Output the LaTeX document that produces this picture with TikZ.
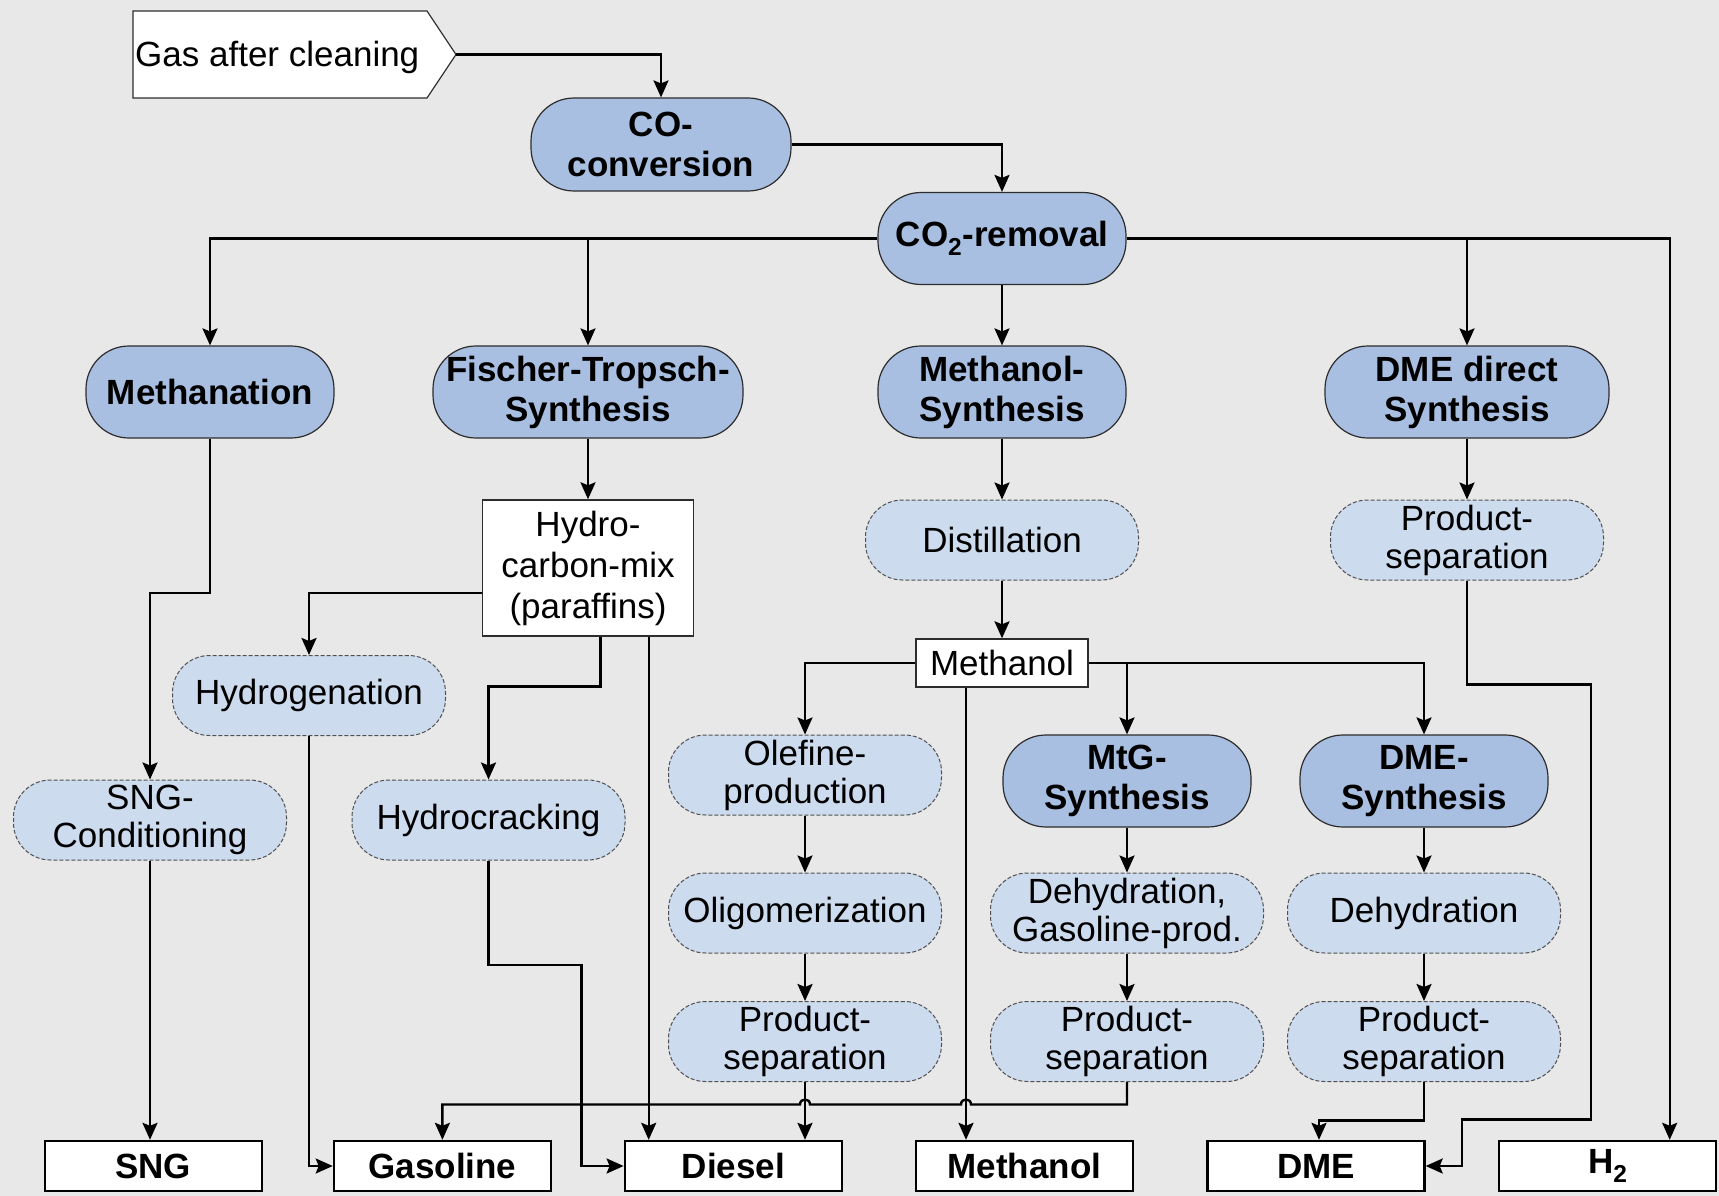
\documentclass[tikz,border=0pt]{standalone}
\usepackage{fontspec}
\setmainfont{Liberation Sans}
\usetikzlibrary{arrows.meta,calc}

\definecolor{canvas}{RGB}{232,232,232}
\definecolor{procfill}{RGB}{169,191,225}
\definecolor{stepfill}{RGB}{205,219,238}
\definecolor{rim}{RGB}{45,45,45}
\definecolor{dashrim}{RGB}{80,80,80}

\tikzset{
  txt/.style={inner sep=0pt, align=center, font=\fontsize{35}{40}\selectfont},
  proc/.style={txt, font=\fontsize{35}{40}\selectfont\bfseries, fill=procfill, draw=rim,
    line width=1.2pt, rounded corners=43pt, minimum width=248pt, minimum height=92pt},
  stepbox/.style={txt, font=\fontsize{35}{38}\selectfont, fill=stepfill, draw=dashrim,
    line width=1pt, dash pattern=on 4pt off 2pt, rounded corners=37pt,
    minimum width=273pt, minimum height=80pt},
  midbox/.style={txt, fill=white, draw=rim, line width=1.4pt},
  prod/.style={txt, font=\fontsize{35}{40}\selectfont\bfseries, fill=white, draw=black,
    line width=2.4pt, minimum width=217pt, minimum height=50pt},
  wire/.style={line width=2.4pt, line join=miter},
  flow/.style={wire, -{Stealth[length=17pt,width=15pt,inset=3pt]}},
}

\begin{document}
\begin{tikzpicture}[x=1pt,y=-1pt]
\fill[canvas] (0,0) rectangle (1719,1196);
\useasboundingbox (0,0) rectangle (1719,1196);

% feed gas
\draw[fill=white, draw=rim, line width=1.2pt]
  (133,11) -- (427,11) -- (456,54.5) -- (427,98) -- (133,98) -- cycle;
\node[txt, anchor=base west] (gas) at (135,67) {Gas after cleaning};
\coordinate (gastip) at (456,54.5);

% main process chain
\node[proc, minimum width=260pt, minimum height=93pt] (coconv) at (661,144.5) {CO-\\conversion};
\node[proc] (co2) at (1002,238.5) {CO\textsubscript{2}-removal};

\node[proc] (meth) at (210,392) {Methanation};
\node[proc, minimum width=310pt] (ft) at (588,392) {Fischer-Tropsch-\\Synthesis};
\node[proc] (msyn) at (1002,392) {Methanol-\\Synthesis};
\node[proc, minimum width=284pt] (dmed) at (1467,392) {DME direct\\Synthesis};

\node[midbox, minimum width=211pt, minimum height=136pt, font=\fontsize{35}{41}\selectfont] (hcm) at (588,568) {Hydro-\\carbon-mix\\(paraffins)};
\node[stepbox] (dist) at (1002,540) {Distillation};
\node[stepbox] (psd) at (1467,540) {Product-\\separation};
\node[midbox, minimum width=172pt, minimum height=48pt] (mbox) at (1002,663) {Methanol};

\node[stepbox] (hyd) at (309,695.5) {Hydrogenation};
\node[stepbox] (sngc) at (150,820) {SNG-\\Conditioning};
\node[stepbox] (hcr) at (488.5,820) {Hydrocracking};

\node[stepbox] (ole) at (805,775) {Olefine-\\production};
\node[stepbox] (oli) at (805,913) {Oligomerization};
\node[stepbox] (ps1) at (805,1041.5) {Product-\\separation};

\node[proc] (mtg) at (1127,781) {MtG-\\Synthesis};
\node[stepbox] (deh1) at (1127,913) {Dehydration,\\Gasoline-prod.};
\node[stepbox] (ps2) at (1127,1041.5) {Product-\\separation};

\node[proc] (dmes) at (1424,781) {DME-\\Synthesis};
\node[stepbox] (deh2) at (1424,913) {Dehydration};
\node[stepbox] (ps3) at (1424,1041.5) {Product-\\separation};

% products
\node[prod] (sng) at (153.3,1166) {SNG};
\node[prod] (gasoline) at (442.4,1166) {Gasoline};
\node[prod] (diesel) at (733.3,1166) {Diesel};
\node[prod] (methanol) at (1024.5,1166) {Methanol};
\node[prod] (dme) at (1316,1166) {DME};
\node[prod] (h2) at (1607.7,1166) {H\textsubscript{2}};

% connectors
\draw[flow] (gastip) -| (coconv.north);
\draw[flow] (coconv.east) -| (co2.north);
\draw[flow] (co2.west) -| (meth.north);
\draw[flow] (co2.west -| ft.north) -- (ft.north);
\draw[flow] (co2.east) -| ($(h2.north)+(62,0)$);
\draw[flow] (co2.east -| dmed.north) -- (dmed.north);
\draw[flow] (co2.south) -- (msyn.north);

\draw[flow] (meth.south) -- ++(0,154.5) -| (sngc.north);
\draw[flow] (sngc.south) -- (sngc.south |- sng.north);

\draw[flow] (ft.south) -- (hcm.north);
\draw[flow] ($(hcm.west)+(0,24.7)$) -| (hyd.north);
\draw[flow] ($(hcm.south)+(12.4,0)$) -- ++(0,49.7) -| (hcr.north);
\draw[flow] ($(hcm.south)+(60.7,0)$) coordinate (hcmd) -- (hcmd |- diesel.north);
\draw[flow] (hyd.south) |- (gasoline.west);
\draw[flow] (hcr.south) -- ++(0,104.7) -| ($(diesel.west)+(-42,0)$) -- (diesel.west);

\draw[flow] (msyn.south) -- (dist.north);
\draw[flow] (dist.south) -- (mbox.north);
\draw[flow] (mbox.west) -| (ole.north);
\draw[flow] (mbox.east) -| (dmes.north);
\draw[flow] (mbox.east -| mtg.north) -- (mtg.north);
\draw[flow] ($(mbox.south)+(-36,0)$) coordinate (mdown) -- (mdown |- methanol.north);

\draw[flow] (ole.south) -- (oli.north);
\draw[flow] (oli.south) -- (ps1.north);
\draw[flow] (ps1.south) -- (ps1.south |- diesel.north);

\draw[flow] (mtg.south) -- (deh1.north);
\draw[flow] (deh1.south) -- (ps2.north);

\draw[flow] (dmes.south) -- (deh2.north);
\draw[flow] (deh2.south) -- (ps3.north);

\draw[flow] (dmed.south) -- (psd.north);

% gasoline collector with line hops over the crossing verticals
\coordinate (bus) at ($(ps2.south)+(0,22.5)$);
\coordinate (hopA) at (bus -| mdown);
\coordinate (hopB) at (bus -| ps1.south);
\draw[flow] (ps2.south) -- (bus)
  -- ($(hopA)+(5,0)$) .. controls ($(hopA)+(5,-6.7)$) and ($(hopA)+(-5,-6.7)$) .. ($(hopA)+(-5,0)$)
  -- ($(hopB)+(5,0)$) .. controls ($(hopB)+(5,-6.7)$) and ($(hopB)+(-5,-6.7)$) .. ($(hopB)+(-5,0)$)
  -| (gasoline.north);

\draw[flow] (ps3.south) -- ++(0,38.5) -| ($(dme.north)+(3,0)$);
\draw[flow] (psd.south) -- ++(0,104) -- ++(124,0) -- ++(0,435)
  -| ($(dme.east)+(36,0)$) -- (dme.east);
\end{tikzpicture}
\end{document}
